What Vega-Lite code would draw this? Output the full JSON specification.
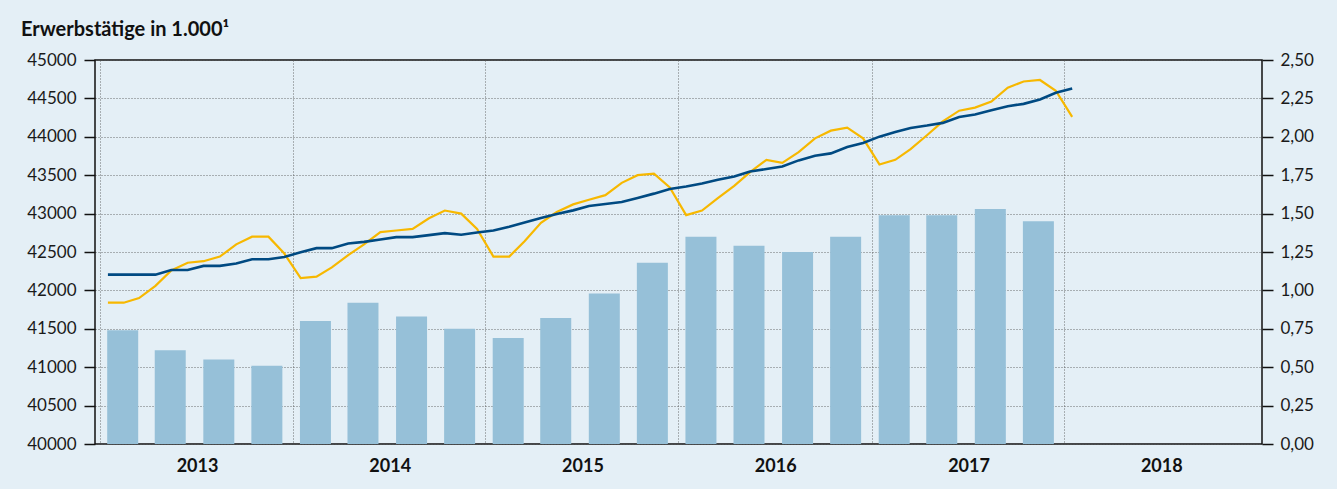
{
  "$schema": "https://vega.github.io/schema/vega-lite/v6.json",
  "width": 1167,
  "height": 384,
  "autosize": {"type": "none"},
  "padding": {"left": 95, "top": 60, "right": 75, "bottom": 45},
  "background": "#e4eff6",
  "title": {
    "text": "Erwerbstätige in 1.000¹",
    "anchor": "start",
    "frame": "group",
    "dx": -74,
    "dy": 17,
    "offset": 12,
    "baseline": "alphabetic",
    "font": "Lato",
    "fontSize": 20,
    "fontWeight": "bold",
    "color": "#111111"
  },
  "config": {
    "font": "Lato",
    "view": {"stroke": "#111111", "strokeWidth": 1.5},
    "axis": {
      "labelFont": "Lato",
      "labelColor": "#1a1a1a",
      "labelFontSize": 17,
      "tickColor": "#111111",
      "tickWidth": 1.5,
      "domain": false,
      "gridColor": "#555555",
      "gridDash": [1, 2],
      "gridWidth": 1,
      "gridOpacity": 0.85
    }
  },
  "datasets": {
    "monthly": [
      {"date": "2013-01-16", "emp": 42205, "sv": 0.92},
      {"date": "2013-02-15", "emp": 42205, "sv": 0.92},
      {"date": "2013-03-16", "emp": 42205, "sv": 0.95},
      {"date": "2013-04-16", "emp": 42205, "sv": 1.03},
      {"date": "2013-05-16", "emp": 42266, "sv": 1.13},
      {"date": "2013-06-16", "emp": 42266, "sv": 1.18},
      {"date": "2013-07-16", "emp": 42319, "sv": 1.19},
      {"date": "2013-08-16", "emp": 42319, "sv": 1.22},
      {"date": "2013-09-16", "emp": 42349, "sv": 1.30},
      {"date": "2013-10-16", "emp": 42406, "sv": 1.35},
      {"date": "2013-11-16", "emp": 42406, "sv": 1.35},
      {"date": "2013-12-16", "emp": 42436, "sv": 1.24},
      {"date": "2014-01-16", "emp": 42497, "sv": 1.08},
      {"date": "2014-02-15", "emp": 42550, "sv": 1.09},
      {"date": "2014-03-16", "emp": 42550, "sv": 1.15},
      {"date": "2014-04-16", "emp": 42611, "sv": 1.23},
      {"date": "2014-05-16", "emp": 42632, "sv": 1.30},
      {"date": "2014-06-16", "emp": 42663, "sv": 1.38},
      {"date": "2014-07-16", "emp": 42694, "sv": 1.39},
      {"date": "2014-08-16", "emp": 42694, "sv": 1.40},
      {"date": "2014-09-16", "emp": 42720, "sv": 1.47},
      {"date": "2014-10-16", "emp": 42746, "sv": 1.52},
      {"date": "2014-11-16", "emp": 42724, "sv": 1.50},
      {"date": "2014-12-16", "emp": 42755, "sv": 1.40},
      {"date": "2015-01-16", "emp": 42781, "sv": 1.22},
      {"date": "2015-02-15", "emp": 42829, "sv": 1.22},
      {"date": "2015-03-16", "emp": 42885, "sv": 1.32},
      {"date": "2015-04-16", "emp": 42942, "sv": 1.44},
      {"date": "2015-05-16", "emp": 42994, "sv": 1.51},
      {"date": "2015-06-16", "emp": 43042, "sv": 1.56},
      {"date": "2015-07-16", "emp": 43099, "sv": 1.59},
      {"date": "2015-08-16", "emp": 43125, "sv": 1.62},
      {"date": "2015-09-16", "emp": 43151, "sv": 1.70},
      {"date": "2015-10-16", "emp": 43204, "sv": 1.75},
      {"date": "2015-11-16", "emp": 43260, "sv": 1.76},
      {"date": "2015-12-16", "emp": 43321, "sv": 1.67},
      {"date": "2016-01-16", "emp": 43352, "sv": 1.49},
      {"date": "2016-02-15", "emp": 43392, "sv": 1.52},
      {"date": "2016-03-16", "emp": 43440, "sv": 1.60},
      {"date": "2016-04-16", "emp": 43484, "sv": 1.68},
      {"date": "2016-05-16", "emp": 43549, "sv": 1.77},
      {"date": "2016-06-16", "emp": 43580, "sv": 1.85},
      {"date": "2016-07-16", "emp": 43614, "sv": 1.83},
      {"date": "2016-08-16", "emp": 43693, "sv": 1.90},
      {"date": "2016-09-16", "emp": 43754, "sv": 1.99},
      {"date": "2016-10-16", "emp": 43784, "sv": 2.04},
      {"date": "2016-11-16", "emp": 43867, "sv": 2.06},
      {"date": "2016-12-16", "emp": 43920, "sv": 1.99},
      {"date": "2017-01-16", "emp": 44002, "sv": 1.82},
      {"date": "2017-02-15", "emp": 44063, "sv": 1.85},
      {"date": "2017-03-16", "emp": 44115, "sv": 1.92},
      {"date": "2017-04-16", "emp": 44146, "sv": 2.01},
      {"date": "2017-05-16", "emp": 44181, "sv": 2.10},
      {"date": "2017-06-16", "emp": 44259, "sv": 2.17},
      {"date": "2017-07-16", "emp": 44290, "sv": 2.19},
      {"date": "2017-08-16", "emp": 44346, "sv": 2.23},
      {"date": "2017-09-16", "emp": 44399, "sv": 2.32},
      {"date": "2017-10-16", "emp": 44429, "sv": 2.36},
      {"date": "2017-11-16", "emp": 44486, "sv": 2.37},
      {"date": "2017-12-16", "emp": 44573, "sv": 2.30},
      {"date": "2018-01-16", "emp": 44630, "sv": 2.13}
    ],
    "quarterly": [
      {"date": "2013-02-13", "rate": 0.74},
      {"date": "2013-05-14", "rate": 0.61},
      {"date": "2013-08-14", "rate": 0.55},
      {"date": "2013-11-13", "rate": 0.51},
      {"date": "2014-02-13", "rate": 0.80},
      {"date": "2014-05-14", "rate": 0.92},
      {"date": "2014-08-14", "rate": 0.83},
      {"date": "2014-11-13", "rate": 0.75},
      {"date": "2015-02-13", "rate": 0.69},
      {"date": "2015-05-14", "rate": 0.82},
      {"date": "2015-08-14", "rate": 0.98},
      {"date": "2015-11-13", "rate": 1.18},
      {"date": "2016-02-13", "rate": 1.35},
      {"date": "2016-05-14", "rate": 1.29},
      {"date": "2016-08-14", "rate": 1.25},
      {"date": "2016-11-13", "rate": 1.35},
      {"date": "2017-02-13", "rate": 1.49},
      {"date": "2017-05-14", "rate": 1.49},
      {"date": "2017-08-14", "rate": 1.53},
      {"date": "2017-11-13", "rate": 1.45}
    ]
  },
  "layer": [
    {
      "data": {"name": "quarterly"},
      "mark": {"type": "bar", "width": 31, "color": "#96c0d8"},
      "encoding": {
        "x": {
          "field": "date",
          "type": "temporal",
          "scale": {
            "type": "utc",
            "domain": [
              {"year": 2013, "month": 1, "date": 1, "utc": true},
              {"year": 2019, "month": 1, "date": 1, "utc": true}
            ]
          },
          "axis": {
            "orient": "bottom",
            "title": null,
            "values": [
              {"year": 2013, "month": 1, "date": 1, "utc": true},
              {"year": 2014, "month": 1, "date": 1, "utc": true},
              {"year": 2015, "month": 1, "date": 1, "utc": true},
              {"year": 2016, "month": 1, "date": 1, "utc": true},
              {"year": 2017, "month": 1, "date": 1, "utc": true},
              {"year": 2018, "month": 1, "date": 1, "utc": true}
            ],
            "format": "%Y",
            "ticks": false,
            "grid": true,
            "labelOffset": 97,
            "labelAlign": "center",
            "labelPadding": 13,
            "labelFontWeight": "bold",
            "labelFontSize": 18,
            "labelOverlap": false,
            "labelFlush": false,
            "labelBound": false,
            "labelColor": "#111111"
          }
        },
        "y": {
          "field": "rate",
          "type": "quantitative",
          "scale": {"domain": [0, 2.5], "nice": false, "zero": true},
          "axis": {
            "orient": "right",
            "title": null,
            "values": [0, 0.25, 0.5, 0.75, 1, 1.25, 1.5, 1.75, 2, 2.25, 2.5],
            "labelExpr": "replace(format(datum.value, '.2f'), '.', ',')",
            "grid": false,
            "tickSize": 11,
            "labelPadding": 7
          }
        }
      }
    },
    {
      "data": {"name": "monthly"},
      "mark": {"type": "line", "color": "#f7b800", "strokeWidth": 2.2},
      "encoding": {
        "x": {"field": "date", "type": "temporal"},
        "y": {
          "field": "sv",
          "type": "quantitative",
          "scale": {"domain": [0, 2.5], "nice": false, "zero": true},
          "axis": null
        }
      }
    },
    {
      "data": {"name": "monthly"},
      "mark": {"type": "line", "color": "#004a82", "strokeWidth": 2.6},
      "encoding": {
        "x": {"field": "date", "type": "temporal"},
        "y": {
          "field": "emp",
          "type": "quantitative",
          "scale": {"domain": [40000, 45000], "nice": false, "zero": false},
          "axis": {
            "orient": "left",
            "title": null,
            "values": [40000, 40500, 41000, 41500, 42000, 42500, 43000, 43500, 44000, 44500, 45000],
            "format": "d",
            "grid": true,
            "tickSize": 11,
            "labelPadding": 8
          }
        }
      }
    }
  ],
  "resolve": {"scale": {"y": "independent"}}
}
